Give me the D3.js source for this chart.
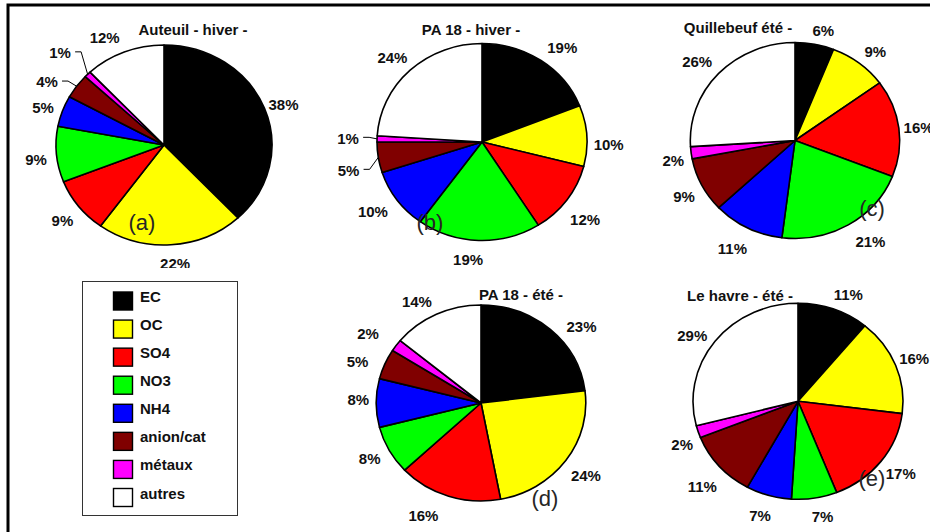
<!DOCTYPE html>
<html>
<head>
<meta charset="utf-8">
<script src="https://cdn.jsdelivr.net/npm/d3@7/dist/d3.min.js"></script>
<style>
  html, body { margin: 0; padding: 0; background: #fff; }
  svg { display: block; }
  text { font-family: "Liberation Sans", Arial, Helvetica, sans-serif; }
</style>
</head>
<body>
<svg id="chart" width="930" height="532"></svg>
<script>
// Aerosol composition (% of PM mass) per site and season
const categories = ["EC", "OC", "SO4", "NO3", "NH4", "anion/cat", "métaux", "autres"];
const titles = ["Auteuil - hiver -", "PA 18 - hiver -", "Quillebeuf été -", "PA 18 - été -", "Le havre - été -"];
const panelTags = ["(a)", "(b)", "(c)", "(d)", "(e)"];
const auteuilHiver = [38, 22, 9, 9, 5, 4, 1, 12];
const pa18Hiver = [19, 10, 12, 19, 10, 5, 1, 24];
const quillebeufEte = [6, 9, 16, 21, 11, 9, 2, 26];
const pa18Ete = [23, 24, 16, 8, 8, 5, 2, 14];
const leHavreEte = [11, 16, 17, 7, 7, 11, 2, 29];

const seriesList = [auteuilHiver, pa18Hiver, quillebeufEte, pa18Ete, leHavreEte];

const color = d3.scaleOrdinal()
  .domain(categories)
  .range(["#000000", "#ffff00", "#ff0000", "#00ff00", "#0000ff", "#800000", "#ff00ff", "#ffffff"]);

// Layout of each pie panel: ellipse centre, radii, title and tag placement
const panels = [
  { cx: 164, cy: 145, rx: 108, ry: 100, tx: 193, ty: 35, tagX: 142, tagY: 230, clipH: 268,
    nudge: { 1: [3, -3], 5: [-13, 4], 6: [-13, -11], 7: [-12, 0] }, leaders: [5, 6] },
  { cx: 482, cy: 142, rx: 105, ry: 98.5, tx: 471, ty: 35, tagX: 430, tagY: 230,
    nudge: { 0: [10, 0], 1: [2, 7], 2: [2, 6], 3: [-10, -3], 4: [-8, -2], 5: [-10, 7], 6: [-9, -3], 7: [-4, -2] }, leaders: [5, 6] },
  { cx: 795, cy: 140.5, rx: 104.7, ry: 98, tx: 738, ty: 33, tagX: 872, tagY: 216,
    nudge: { 0: [5, 2], 1: [4, 0], 2: [0, -1], 3: [12, -2], 4: [-6, 1], 6: [2, 2], 7: [-7, -2] }, leaders: [] },
  { cx: 481, cy: 403, rx: 104.8, ry: 98, tx: 521, ty: 300, tagX: 545, tagY: 506,
    nudge: { 0: [18, 8], 1: [4, 1], 2: [-19, -1], 3: [-2, -4], 4: [2, -6], 5: [-9, 2], 6: [-12, -4], 7: [-11, 1] }, leaders: [] },
  { cx: 798, cy: 401.3, rx: 105, ry: 98, tx: 740, ty: 301, tagX: 872, tagY: 486,
    nudge: { 0: [8, 0], 1: [0, -3], 2: [4, -2], 3: [5, -3], 4: [-3, -1], 5: [-2, 5], 6: [3, 4], 7: [-7, 3] }, leaders: [] }
];

const svg = d3.select("#chart");
const defs = svg.append("defs");

const pie = d3.pie().sort(null).value(d => d);
const labelK = 1.19;
const fmt = v => v + "%";

panels.forEach((p, i) => {
  const values = seriesList[i];
  const arcs = pie(values);
  const g = svg.append("g");

  if (p.clipH) {
    defs.append("clipPath").attr("id", "clip" + i)
      .append("rect").attr("x", 0).attr("y", 0).attr("width", 330).attr("height", p.clipH);
    g.attr("clip-path", "url(#clip" + i + ")");
  }

  // Slices drawn on a circle of radius ry, stretched horizontally to rx
  const arc = d3.arc().innerRadius(0).outerRadius(p.ry);
  const pieG = g.append("g")
    .attr("transform", `translate(${p.cx},${p.cy}) scale(${p.rx / p.ry},1)`);
  pieG.selectAll("path")
    .data(arcs)
    .join("path")
    .attr("d", arc)
    .attr("fill", (d, j) => color(categories[j]))
    .attr("stroke", "#000")
    .attr("stroke-width", 1.6)
    .attr("stroke-linejoin", "round")
    .attr("vector-effect", "non-scaling-stroke");

  // Title
  g.append("text")
    .attr("x", p.tx).attr("y", p.ty)
    .attr("text-anchor", "middle")
    .attr("font-size", 15).attr("font-weight", "bold").attr("fill", "#111")
    .text(titles[i]);

  // Percentage labels placed outside the slice mid-angle
  const mid = d => (d.startAngle + d.endAngle) / 2;
  const labels = arcs.map((d, j) => {
    const a = mid(d);
    const n = p.nudge[j] || [0, 0];
    return {
      j, a,
      x: p.cx + p.rx * labelK * Math.sin(a) + n[0],
      y: p.cy - p.ry * labelK * Math.cos(a) + 3 + n[1],
      text: fmt(d.data)
    };
  });

  g.selectAll("text.lbl")
    .data(labels)
    .join("text")
    .attr("class", "lbl")
    .attr("x", d => d.x).attr("y", d => d.y)
    .attr("dy", "0.36em")
    .attr("text-anchor", "middle")
    .attr("font-size", 15).attr("font-weight", "bold").attr("fill", "#111")
    .text(d => d.text);

  // Leader lines for small slices whose labels were moved aside
  const leaderData = labels.filter(d => p.leaders.includes(d.j));
  g.selectAll("path.leader")
    .data(leaderData)
    .join("path")
    .attr("class", "leader")
    .attr("fill", "none").attr("stroke", "#000").attr("stroke-width", 1)
    .attr("d", d => {
      const halfW = d.text.length > 2 ? 16 : 11;
      const x0 = d.x + halfW + 4, y0 = d.y - 1;
      const ex = p.cx + p.rx * Math.sin(d.a), ey = p.cy - p.ry * Math.cos(d.a);
      return `M${x0},${y0}H${x0 + 6}L${ex},${ey}`;
    });

  // Panel tag
  svg.append("text")
    .attr("x", p.tagX).attr("y", p.tagY)
    .attr("text-anchor", "middle")
    .attr("font-size", 22).attr("fill", "#262626")
    .text(panelTags[i]);
});

// Legend
const legend = svg.append("g");
legend.append("rect")
  .attr("x", 82.5).attr("y", 281.5).attr("width", 155).attr("height", 234)
  .attr("fill", "#fff").attr("stroke", "#333").attr("stroke-width", 1);
const rowY = d3.scalePoint().domain(categories).range([301, 497.5]);
const rows = legend.selectAll("g.row").data(categories).join("g").attr("class", "row");
rows.append("rect")
  .attr("x", 113.5).attr("y", d => rowY(d) - 9)
  .attr("width", 19).attr("height", 18)
  .attr("fill", d => color(d))
  .attr("stroke", "#000").attr("stroke-width", 1.4);
rows.append("text")
  .attr("x", 140).attr("y", d => rowY(d) + 1)
  .attr("font-size", 15).attr("font-weight", "bold").attr("fill", "#111")
  .text(d => d);

// Outer frame (top and left edges visible)
svg.append("path")
  .attr("d", "M8,540V5H940")
  .attr("fill", "none").attr("stroke", "#000").attr("stroke-width", 3);
</script>
</body>
</html>
